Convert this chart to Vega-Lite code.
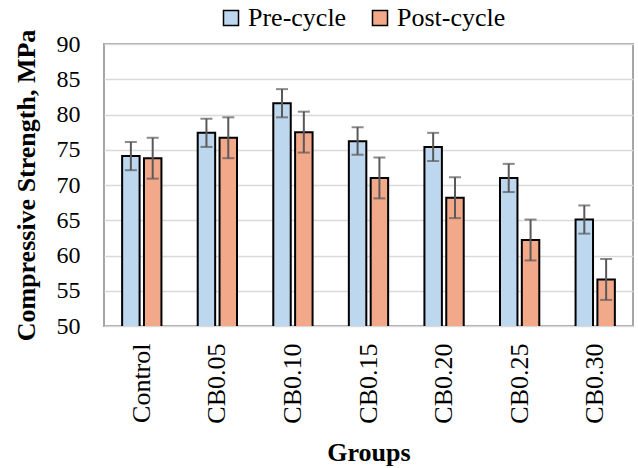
{
  "$schema": "https://vega.github.io/schema/vega-lite/v6.json",
  "autosize": {"type": "none"},
  "width": 529,
  "height": 282,
  "padding": {"left": 104, "top": 44, "right": 5, "bottom": 142},
  "config": {
    "font": "Liberation Serif, Times New Roman, serif",
    "view": {"stroke": "#A6A6A6", "strokeWidth": 2},
    "axis": {"labelFont": "Liberation Serif, Times New Roman, serif", "titleFont": "Liberation Serif, Times New Roman, serif", "labelColor": "#000000", "titleColor": "#000000"},
    "axisY": {
      "titleFontSize": 26, "titleFontWeight": "bold", "titlePadding": 17,
      "labelFontSize": 24, "labelPadding": 24, "ticks": false, "domain": false, "labelOverlap": false,
      "gridColor": "#D9D9D9", "gridWidth": 1.5
    },
    "legend": {"labelFont": "Liberation Serif, Times New Roman, serif"}
  },
  "data": {
    "values": [
      {"group": "Control", "phase": "Pre-cycle", "value": 74.1, "lo": 72.1, "hi": 76.1},
      {"group": "Control", "phase": "Post-cycle", "value": 73.8, "lo": 70.9, "hi": 76.7},
      {"group": "CB0.05", "phase": "Pre-cycle", "value": 77.4, "lo": 75.4, "hi": 79.4},
      {"group": "CB0.05", "phase": "Post-cycle", "value": 76.7, "lo": 73.8, "hi": 79.6},
      {"group": "CB0.10", "phase": "Pre-cycle", "value": 81.6, "lo": 79.6, "hi": 83.6},
      {"group": "CB0.10", "phase": "Post-cycle", "value": 77.5, "lo": 74.6, "hi": 80.4},
      {"group": "CB0.15", "phase": "Pre-cycle", "value": 76.2, "lo": 74.3, "hi": 78.2},
      {"group": "CB0.15", "phase": "Post-cycle", "value": 71.0, "lo": 68.1, "hi": 73.9},
      {"group": "CB0.20", "phase": "Pre-cycle", "value": 75.4, "lo": 73.4, "hi": 77.4},
      {"group": "CB0.20", "phase": "Post-cycle", "value": 68.2, "lo": 65.3, "hi": 71.1},
      {"group": "CB0.25", "phase": "Pre-cycle", "value": 71.0, "lo": 69.0, "hi": 73.0},
      {"group": "CB0.25", "phase": "Post-cycle", "value": 62.2, "lo": 59.3, "hi": 65.1},
      {"group": "CB0.30", "phase": "Pre-cycle", "value": 65.1, "lo": 63.1, "hi": 67.1},
      {"group": "CB0.30", "phase": "Post-cycle", "value": 56.6, "lo": 53.7, "hi": 59.5}
    ]
  },
  "encoding": {
    "x": {
      "field": "group", "type": "nominal",
      "sort": ["Control", "CB0.05", "CB0.10", "CB0.15", "CB0.20", "CB0.25", "CB0.30"],
      "scale": {"paddingInner": 0.48, "paddingOuter": 0.24},
      "axis": {
        "title": "Groups", "titleFontSize": 26, "titleFontWeight": "bold", "titlePadding": 16,
        "labelAngle": -90, "labelFontSize": 26, "labelPadding": 17, "ticks": false, "domain": false
      }
    },
    "xOffset": {
      "field": "phase", "type": "nominal", "sort": ["Pre-cycle", "Post-cycle"],
      "scale": {"paddingInner": 0.2, "paddingOuter": 0}
    }
  },
  "layer": [
    {
      "mark": {"type": "bar", "stroke": "#000000", "strokeWidth": 2, "clip": true},
      "encoding": {
        "y": {
          "field": "value", "type": "quantitative",
          "scale": {"domain": [50, 90], "zero": false, "nice": false},
          "axis": {"title": "Compressive Strength, MPa", "values": [50, 55, 60, 65, 70, 75, 80, 85, 90]}
        },
        "color": {
          "field": "phase", "type": "nominal",
          "scale": {"domain": ["Pre-cycle", "Post-cycle"], "range": ["#BDD7EE", "#F2A98A"]},
          "legend": {
            "title": null, "orient": "none", "direction": "horizontal",
            "legendX": 114, "legendY": -39,
            "symbolType": "square", "symbolSize": 225, "symbolStrokeColor": "#000000", "symbolStrokeWidth": 1.5,
            "symbolOpacity": 1,
            "labelFontSize": 26, "labelColor": "#000000",
            "columnPadding": 20, "labelOffset": 4
          }
        }
      }
    },
    {
      "mark": {"type": "rule", "color": "#595959", "strokeWidth": 2},
      "encoding": {
        "y": {"field": "lo", "type": "quantitative", "axis": {"title": "Compressive Strength, MPa", "values": [50, 55, 60, 65, 70, 75, 80, 85, 90]}},
        "y2": {"field": "hi"}
      }
    },
    {
      "mark": {"type": "tick", "color": "#595959", "thickness": 2, "size": 12, "orient": "horizontal"},
      "encoding": {"y": {"field": "lo", "type": "quantitative", "axis": {"title": "Compressive Strength, MPa", "values": [50, 55, 60, 65, 70, 75, 80, 85, 90]}}}
    },
    {
      "mark": {"type": "tick", "color": "#595959", "thickness": 2, "size": 12, "orient": "horizontal"},
      "encoding": {"y": {"field": "hi", "type": "quantitative", "axis": {"title": "Compressive Strength, MPa", "values": [50, 55, 60, 65, 70, 75, 80, 85, 90]}}}
    }
  ]
}
